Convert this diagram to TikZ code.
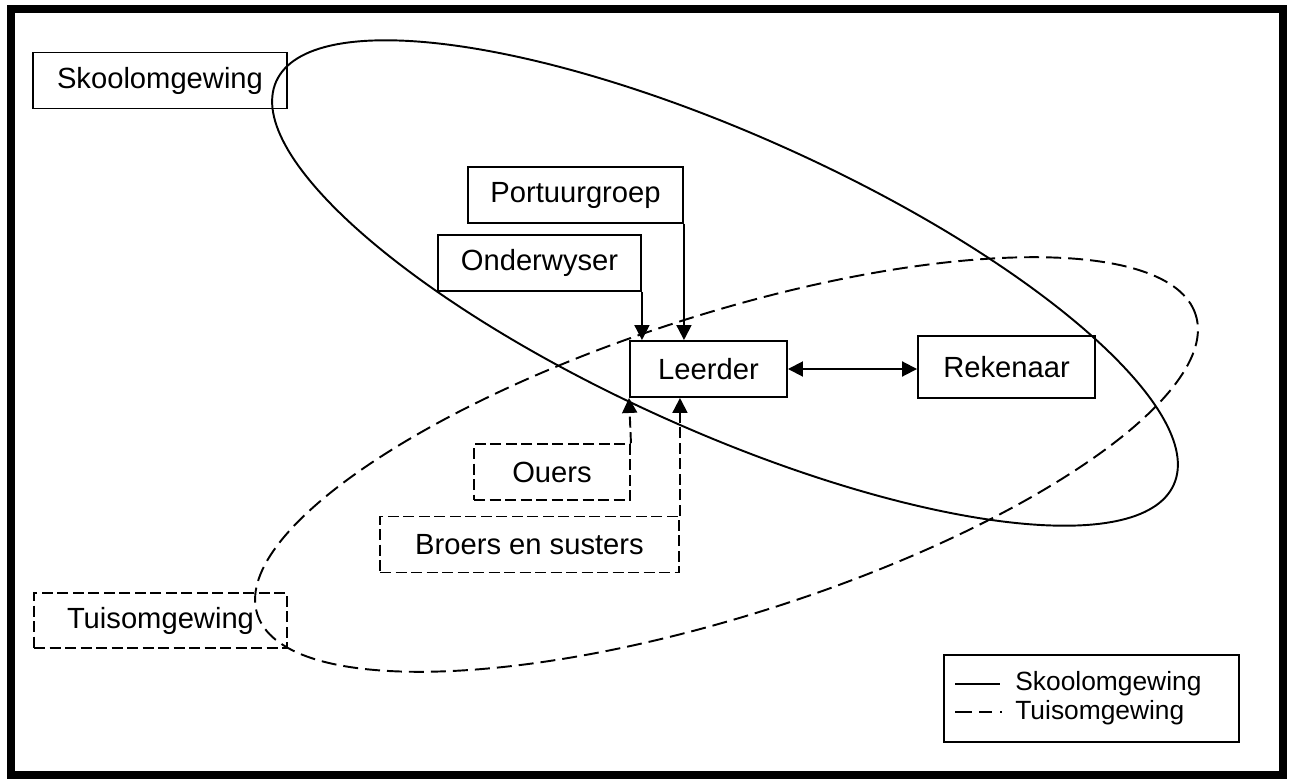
\documentclass[tikz,border=0pt]{standalone}
\usepackage{fontspec}
\setmainfont{Liberation Sans}
\usetikzlibrary{shapes,arrows.meta,positioning}
\newcommand{\boxfont}{\fontsize{16.6}{20}\selectfont}
\newcommand{\keyfont}{\fontsize{15}{18}\selectfont}
\tikzstyle{plainbox}=[rectangle, draw, align=center, line width=1.1pt, minimum height=11.2mm, inner sep=0pt]
\tikzstyle{dashbox}=[plainbox, dash pattern=on 2.2mm off 0.9mm]
\tikzstyle{link}=[-{Triangle[length=3mm,width=3mm]}, line width=1.1pt]
\tikzstyle{dashlink}=[link, dash pattern=on 2.2mm off 0.9mm]
\tikzstyle{region}=[line width=1.1pt]

\begin{document}
\begin{tikzpicture}[every node/.style = {font=\boxfont}]

\useasboundingbox (0,0) rectangle (25.84,-15.68);
\draw[line width=1.6mm] (0.22,-0.18) rectangle (25.66,-15.5);

% the two surroundings
\draw[region, rotate around={-24.2:(14.5,-5.66)}] (14.5,-5.66) ellipse (9.84 and 2.96);
\draw[region, dash pattern=on 3mm off 1.4mm, rotate around={17.7:(14.53,-9.29)}] (14.53,-9.29) ellipse (9.85 and 3.01);

\node[plainbox, minimum width=50.8mm](skool) at (3.2,-1.61) {Skoolomgewing};
\node[plainbox, minimum width=43mm](portuur) at (11.51,-3.9) {Portuurgroep};
\node[plainbox, minimum width=40.6mm](onder) at (10.79,-5.26) {Onderwyser};
\node[plainbox, minimum width=31.4mm](leerder) at (14.17,-7.38) {Leerder};
\node[plainbox, minimum width=35.4mm, minimum height=12.4mm](rekenaar) at (20.13,-7.34) {Rekenaar};
\node[dashbox, minimum width=31.2mm](ouers) at (11.04,-9.44) {Ouers};
\node[dashbox, minimum width=59.8mm](broers) at (10.59,-10.89) {Broers en susters};
\node[dashbox, minimum width=50.6mm, minimum height=11mm](tuis) at (3.21,-12.41) {Tuisomgewing};

%\node [above =0.1mm of leerder] {};

\draw[link](onder.south east) -- (onder.south east |- leerder.north);
\draw[link](portuur.south east) -- (portuur.south east |- leerder.north);
\draw[dashlink](ouers.north east) -- (leerder.south west);
\draw[dashlink](broers.north east) -- (broers.north east |- leerder.south);
\draw[{Triangle[length=3mm,width=3mm]}-{Triangle[length=3mm,width=3mm]}, line width=1.1pt](leerder.east) -- (leerder.east -| rekenaar.west);

% key
\node[plainbox, minimum width=59mm, minimum height=17.4mm](key) at (21.83,-13.97) {};
\node[anchor=west, inner sep=0pt, font=\keyfont](keyskool) at (20.3,-13.68) {Skoolomgewing};
\node[anchor=west, inner sep=0pt, font=\keyfont](keytuis) at (20.3,-14.26) {Tuisomgewing};
\coordinate (s1) at (19.1,-13.68);
\coordinate (t1) at (19.1,-14.24);
\draw[line width=0.7pt](s1) -- ++(0.9,0);
\draw[line width=0.7pt, dash pattern=on 3.4mm off 1.4mm on 2.6mm off 1.6mm on 0.3mm off 5mm](t1) -- ++(0.94,0);

\end{tikzpicture}
\end{document}
